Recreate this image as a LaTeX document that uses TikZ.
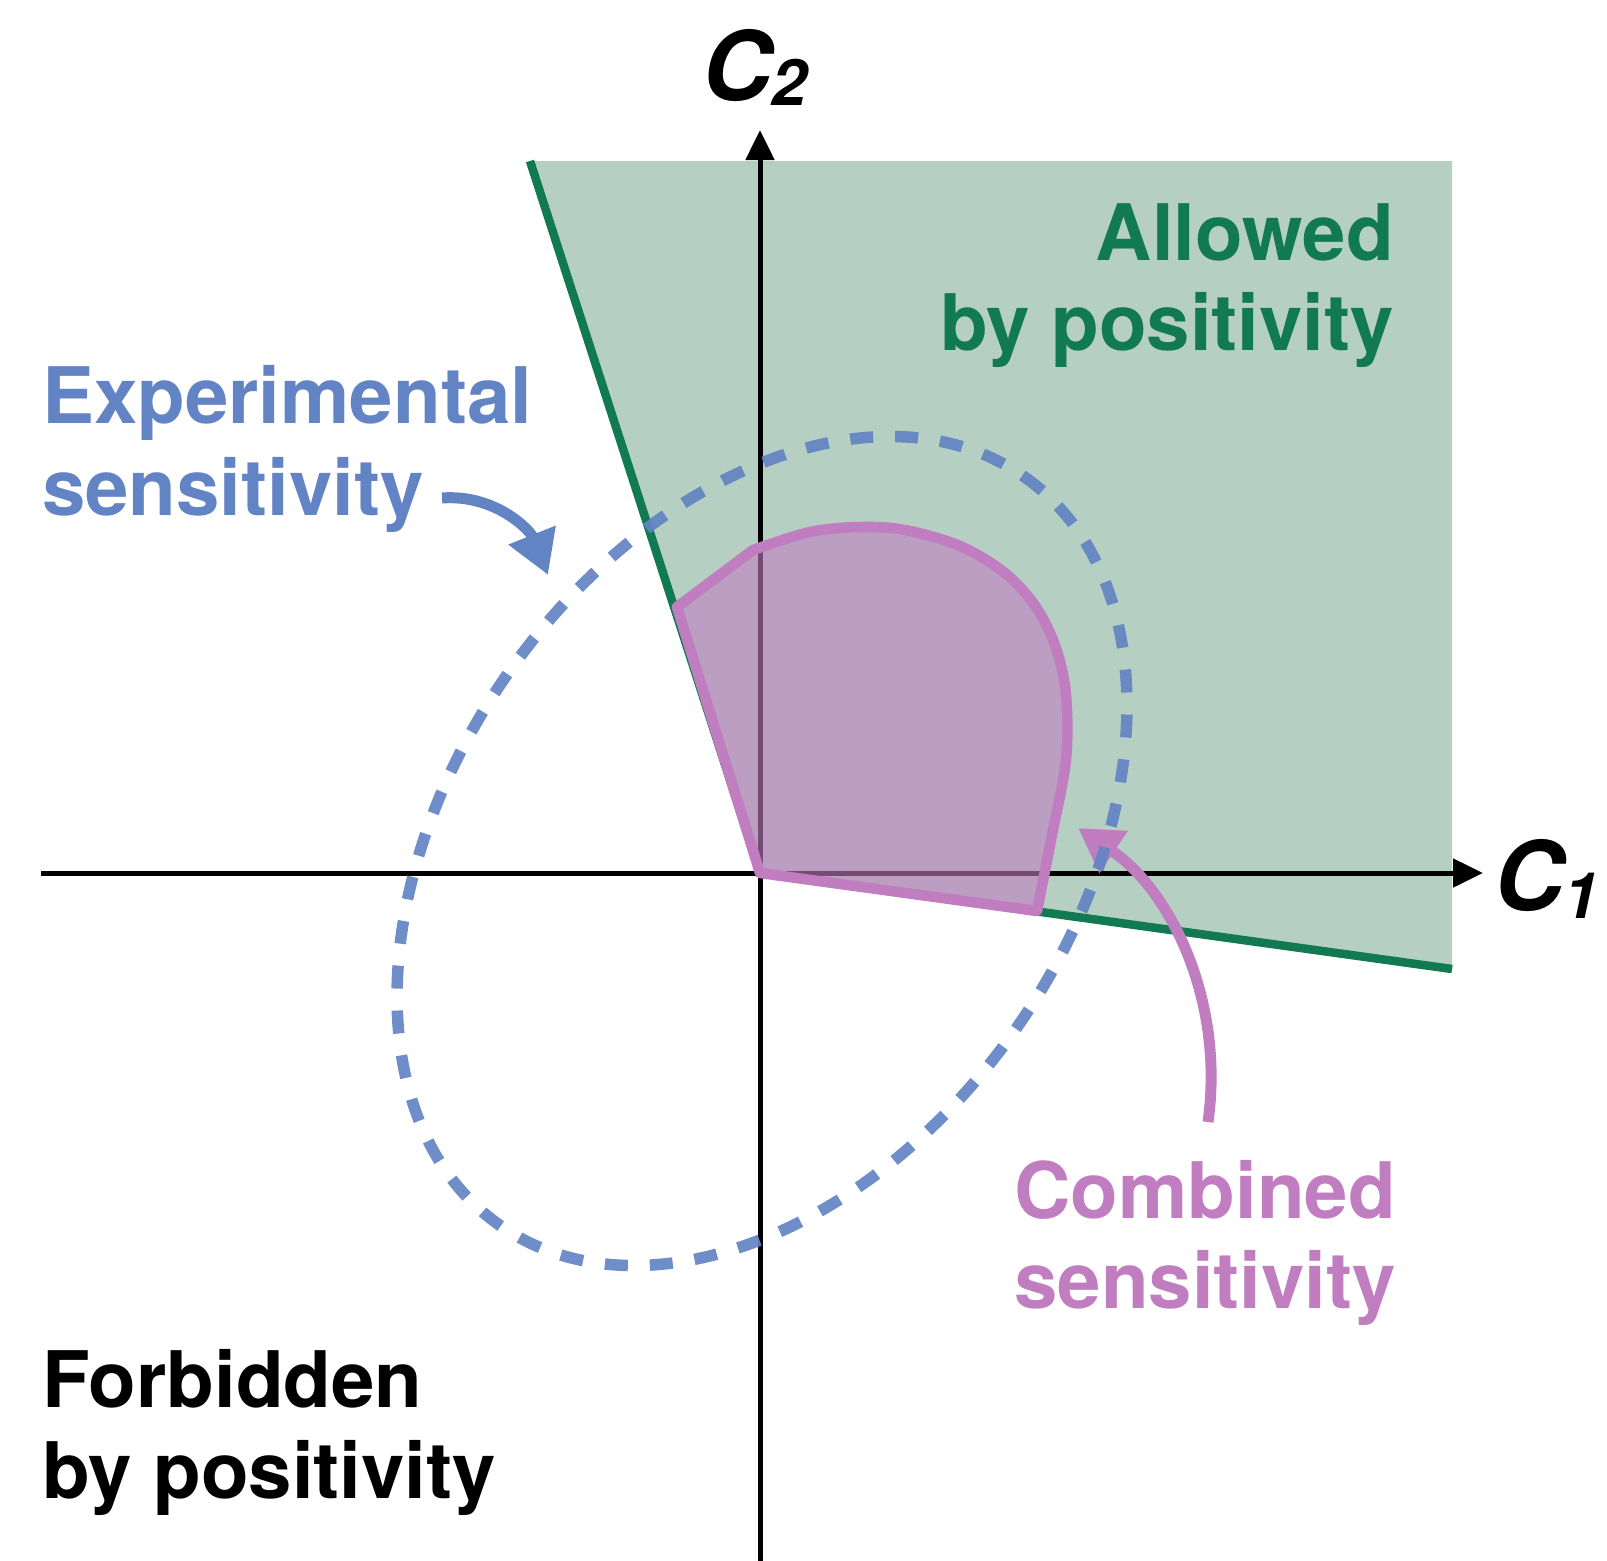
\documentclass[tikz,border=0pt]{standalone}
\usepackage{fontspec}
\setsansfont{TeX Gyre Heros}
\usetikzlibrary{arrows.meta}
\definecolor{gfill}{RGB}{181,208,195}
\definecolor{gline}{RGB}{18,122,82}
\definecolor{bluec}{RGB}{99,132,196}
\definecolor{pinkc}{RGB}{192,126,192}
\tikzset{
  lbl/.style={font=\sffamily\bfseries\fontsize{78}{90}\selectfont, inner sep=0pt},
  axislbl/.style={font=\sffamily\bfseries\itshape\fontsize{96}{96}\selectfont, inner sep=0pt, anchor=base west},
  axisline/.style={line width=5pt, -{Triangle[length=30pt,width=28pt]}},
  bound/.style={draw=gline, line width=8.5pt},
  region/.style={fill=pinkc, fill opacity=0.6, draw=pinkc, line width=10.5pt, line join=round},
  sens/.style={draw=bluec, draw opacity=0.92, line width=11.5pt, dash pattern=on 23pt off 22pt},
  pointer/.style={line width=11pt, -{Triangle[length=43pt,width=48pt]}}
}
\begin{document}
\begin{tikzpicture}[x=1pt,y=-1pt]
\useasboundingbox (0,0) rectangle (1607,1561);
% key points
\coordinate (O) at (760,873);
\coordinate (GT) at (530,161);
\coordinate (GB) at (1452,969);
\coordinate (GTR) at (1452,161);
% allowed region
\fill[gfill] (GT) -- (O) -- (GB) -- (GTR) -- cycle;
% axes
\coordinate (xs) at (41,873);
\coordinate (xe) at (1483,873);
\coordinate (ys) at (760,1561);
\coordinate (ye) at (760,130);
\draw[axisline] (xs) -- (xe);
\draw[axisline] (ys) -- (ye);
% positivity bounds
\draw[bound] (GT) -- (O) -- (GB);
% combined region
\coordinate (P0) at (677,607);
\filldraw[region] (P0) -- (O) -- plot[smooth, tension=0.55] coordinates {(1037,911) (1052,835) (1066,760) (1066,695) (1056,648) (1036,607) (1005,573) (960,546) (905,530) (860,527) (810,532) (753,550)} -- cycle;
% pink pointer
\coordinate (pa0) at (1208,1122);
\coordinate (pa1) at (1078,828);
\draw[pointer, pinkc] (pa0) .. controls (1225,1000) and (1170,890) .. (pa1);
% experimental sensitivity ellipse
\coordinate (EC) at (762,851);
\draw[sens, rotate around={55:(EC)}] (EC) ellipse [x radius=457, y radius=310];
% blue pointer
\coordinate (ba0) at (442,498);
\coordinate (ba1) at (548,575);
\draw[pointer, bluec] (ba0) .. controls (495,494) and (530,530) .. (ba1);
% labels
\node[axislbl] (c2) at (702,100) {C\raisebox{-5pt}{\fontsize{64}{64}\selectfont 2}};
\node[axislbl] (c1) at (1494,910) {C\raisebox{-8pt}{\fontsize{64}{64}\selectfont 1}};
\node[lbl, text=gline, anchor=base east] (al1) at (1394,260) {Allowed};
\node[lbl, text=gline, anchor=base east] (al2) at (1394,350) {by positivity};
\node[lbl, text=bluec, anchor=base west] (ex1) at (42,423) {Experimental};
\node[lbl, text=bluec, anchor=base west] (ex2) at (42,515) {sensitivity};
\node[lbl, text=pinkc, anchor=base east] (co1) at (1396,1218) {Combined};
\node[lbl, text=pinkc, anchor=base east] (co2) at (1396,1308) {sensitivity};
\node[lbl, anchor=base west] (fo1) at (42,1407) {Forbidden};
\node[lbl, anchor=base west] (fo2) at (42,1498) {by positivity};
\end{tikzpicture}
\end{document}
